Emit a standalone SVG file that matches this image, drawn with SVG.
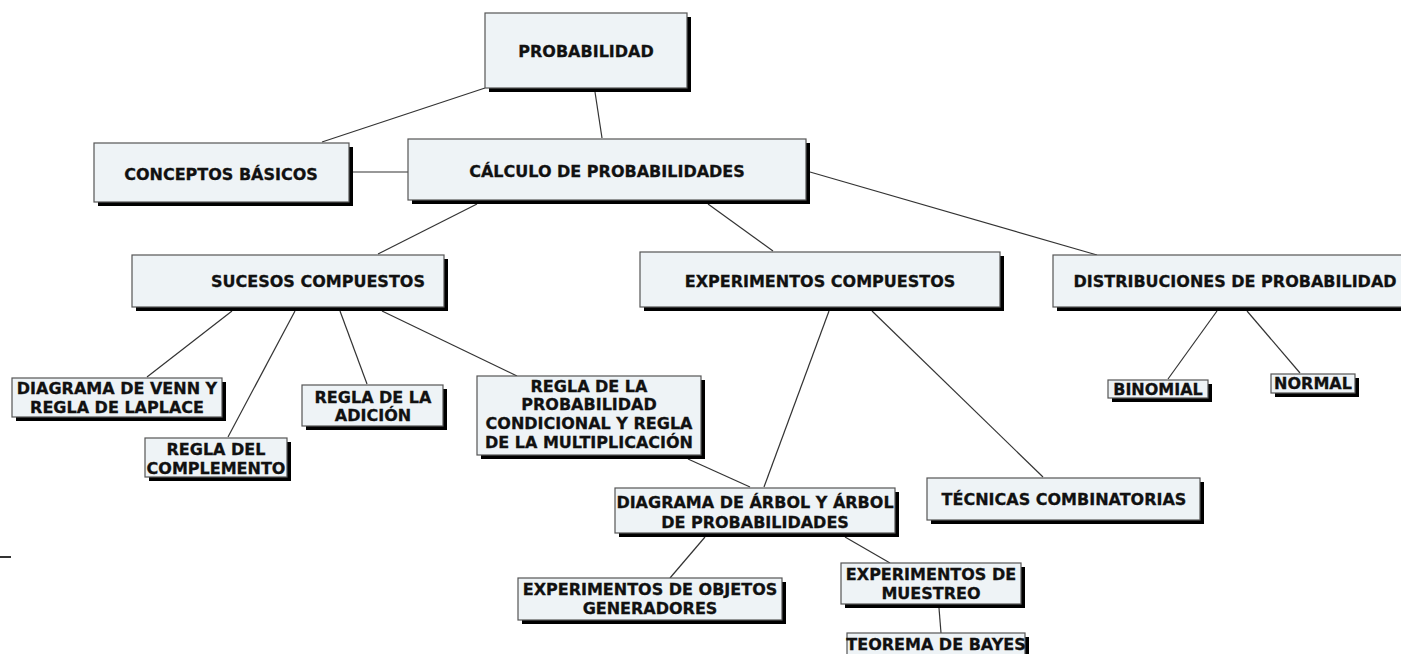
<svg xmlns="http://www.w3.org/2000/svg" width="1401" height="654" viewBox="0 0 1401 654">
<defs>
<style>
.box{fill:#eef3f6;stroke:#555;stroke-width:1.2}
.sh{fill:#000}
.t{font-family:"DejaVu Sans",Verdana,sans-serif;font-weight:bold;font-size:16px;fill:#111;stroke:#111;stroke-width:0.3;text-anchor:middle}
.c line{stroke:#333;stroke-width:1.2}
</style>
</defs>
<rect width="1401" height="654" fill="#fff"/>
<g class="c" id="connectors">
<line x1="485" y1="88" x2="322" y2="142"/>
<line x1="595" y1="92" x2="602" y2="138"/>
<line x1="353" y1="172" x2="408" y2="172"/>
<line x1="477" y1="204" x2="378" y2="254"/>
<line x1="708" y1="204" x2="773" y2="251"/>
<line x1="810" y1="172" x2="1097" y2="255"/>
<line x1="232" y1="311" x2="147" y2="377"/>
<line x1="295" y1="311" x2="228" y2="437"/>
<line x1="340" y1="311" x2="367" y2="384"/>
<line x1="382" y1="311" x2="517" y2="376"/>
<line x1="688" y1="459" x2="750" y2="487"/>
<line x1="829" y1="311" x2="764" y2="487"/>
<line x1="872" y1="311" x2="1043" y2="477"/>
<line x1="1217" y1="311" x2="1168" y2="379"/>
<line x1="1247" y1="311" x2="1300" y2="373"/>
<line x1="705" y1="537" x2="670" y2="578"/>
<line x1="845" y1="537" x2="890" y2="563"/>
<line x1="939" y1="608" x2="941" y2="633"/>
<line x1="0" y1="557" x2="11" y2="557" style="stroke-width:2"/>
</g>
<g id="n-probabilidad"><rect class="sh" x="489" y="17" width="202" height="75"/><rect class="box" x="485" y="13" width="202" height="75"/><text class="t" x="586" y="57">PROBABILIDAD</text></g>
<g id="n-calculo"><rect class="sh" x="412" y="143" width="398" height="61"/><rect class="box" x="408" y="139" width="398" height="61"/><text class="t" x="607" y="177">CÁLCULO DE PROBABILIDADES</text></g>
<g id="n-conceptos"><rect class="sh" x="98" y="147" width="255" height="59"/><rect class="box" x="94" y="143" width="255" height="59"/><text class="t" x="221" y="180">CONCEPTOS BÁSICOS</text></g>
<g id="n-sucesos"><rect class="sh" x="136" y="259" width="312" height="52"/><rect class="box" x="132" y="255" width="312" height="52"/><text class="t" x="318" y="287">SUCESOS COMPUESTOS</text></g>
<g id="n-experimentos"><rect class="sh" x="644" y="256" width="360" height="55"/><rect class="box" x="640" y="252" width="360" height="55"/><text class="t" x="820" y="287">EXPERIMENTOS COMPUESTOS</text></g>
<g id="n-distribuciones"><rect class="sh" x="1057" y="259" width="360" height="52"/><rect class="box" x="1053" y="255" width="360" height="52"/><text class="t" x="1235" y="287">DISTRIBUCIONES DE PROBABILIDAD</text></g>
<g id="n-venn"><rect class="sh" x="16" y="382" width="210" height="39"/><rect class="box" x="12" y="378" width="210" height="39"/><text class="t" x="117" y="394">DIAGRAMA DE VENN Y</text><text class="t" x="117" y="413">REGLA DE LAPLACE</text></g>
<g id="n-complemento"><rect class="sh" x="149" y="442" width="142" height="39"/><rect class="box" x="145" y="438" width="142" height="39"/><text class="t" x="216" y="455">REGLA DEL</text><text class="t" x="216" y="474">COMPLEMENTO</text></g>
<g id="n-adicion"><rect class="sh" x="306" y="389" width="141" height="41"/><rect class="box" x="302" y="385" width="141" height="41"/><text class="t" x="373" y="403">REGLA DE LA</text><text class="t" x="373" y="421">ADICIÓN</text></g>
<g id="n-condicional"><rect class="sh" x="481" y="380" width="224" height="79"/><rect class="box" x="477" y="376" width="224" height="79"/><text class="t" x="589" y="392">REGLA DE LA</text><text class="t" x="589" y="410">PROBABILIDAD</text><text class="t" x="589" y="429">CONDICIONAL Y REGLA</text><text class="t" x="589" y="448">DE LA MULTIPLICACIÓN</text></g>
<g id="n-arbol"><rect class="sh" x="619" y="492" width="280" height="45"/><rect class="box" x="615" y="488" width="280" height="45"/><text class="t" x="755" y="508">DIAGRAMA DE ÁRBOL Y ÁRBOL</text><text class="t" x="755" y="528">DE PROBABILIDADES</text></g>
<g id="n-tecnicas"><rect class="sh" x="931" y="482" width="273" height="42"/><rect class="box" x="927" y="478" width="273" height="42"/><text class="t" x="1064" y="505">TÉCNICAS COMBINATORIAS</text></g>
<g id="n-objetos"><rect class="sh" x="522" y="582" width="264" height="42"/><rect class="box" x="518" y="578" width="264" height="42"/><text class="t" x="650" y="595">EXPERIMENTOS DE OBJETOS</text><text class="t" x="650" y="614">GENERADORES</text></g>
<g id="n-muestreo"><rect class="sh" x="845" y="567" width="180" height="41"/><rect class="box" x="841" y="563" width="180" height="41"/><text class="t" x="931" y="580">EXPERIMENTOS DE</text><text class="t" x="931" y="599">MUESTREO</text></g>
<g id="n-bayes"><rect class="sh" x="851" y="637" width="178" height="30"/><rect class="box" x="847" y="633" width="178" height="30"/><text class="t" x="936" y="650">TEOREMA DE BAYES</text></g>
<g id="n-binomial"><rect class="sh" x="1112" y="384" width="100" height="18"/><rect class="box" x="1108" y="380" width="100" height="18"/><text class="t" x="1158" y="395">BINOMIAL</text></g>
<g id="n-normal"><rect class="sh" x="1275" y="378" width="84" height="19"/><rect class="box" x="1271" y="374" width="84" height="19"/><text class="t" x="1313" y="389">NORMAL</text></g>
</svg>
